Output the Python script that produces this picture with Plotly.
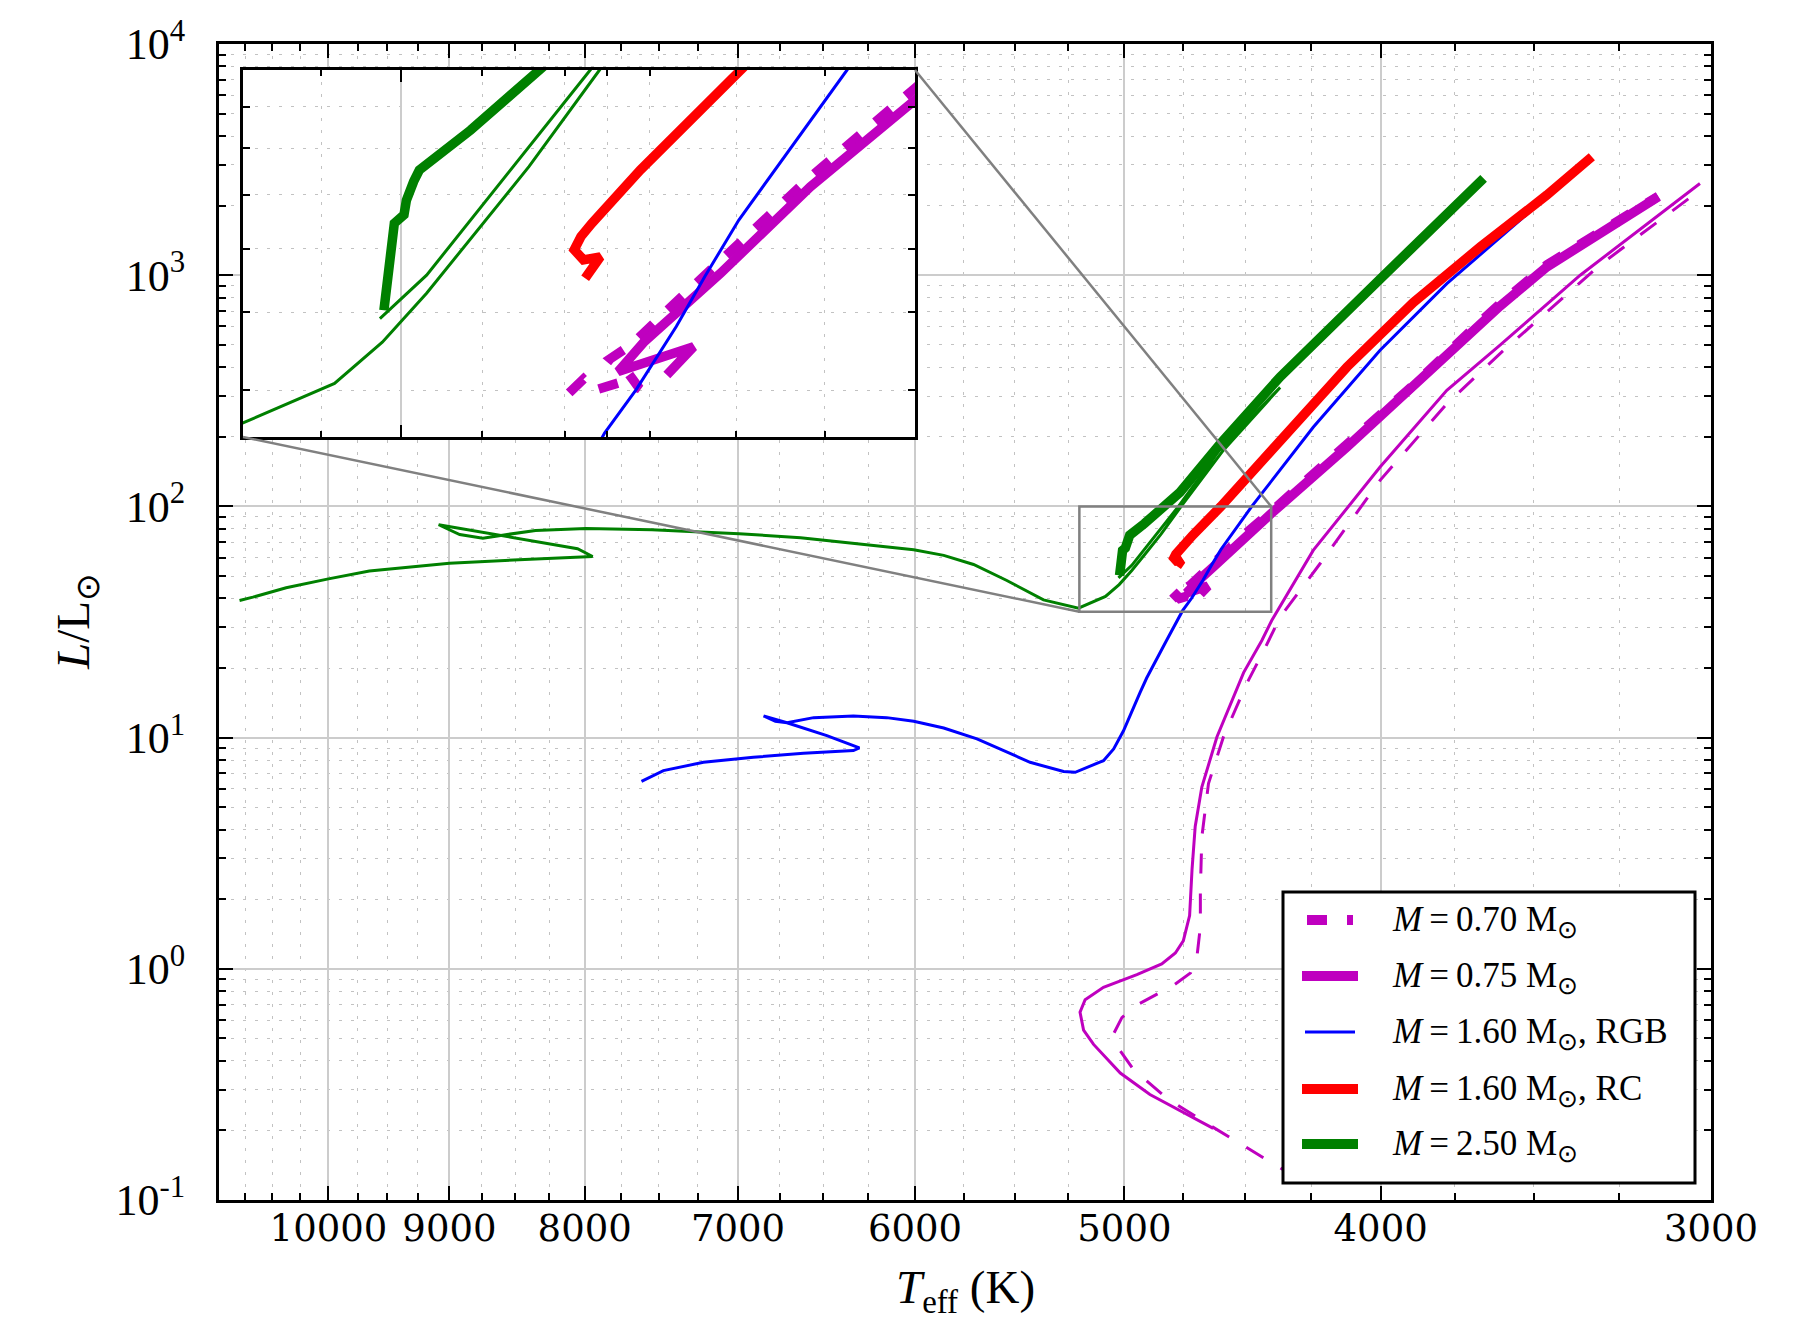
import math
import plotly.graph_objects as go

# ------------------------------------------------------------------ data
# Teff [K] and L [L_sun] along each evolutionary track
m070_rgb_T = [4300, 4353, 4494, 4668, 4820, 4961, 5032, 5047, 5011, 4946, 4791, 4720, 4693,
              4680, 4680, 4674, 4647, 4587, 4494, 4430, 4366, 4217, 4002, 3776, 3605, 3305, 3029]
m070_rgb_L = [0.124, 0.135, 0.168, 0.219, 0.276, 0.367, 0.462, 0.524, 0.615, 0.697, 0.848, 0.96, 1.15,
              1.52, 2.18, 3.71, 6.33, 10.06, 17.2, 23.6, 33.2, 56.5, 129.6, 278, 458, 1105, 2333]

m070_hb_T = [4795, 4778, 4765, 4735, 4712, 4725, 4746, 4721, 4669, 4516, 4402, 4119, 3888,
             3667, 3605, 3461, 3402, 3210, 3141]
m070_hb_L = [39.7, 41.3, 40.0, 40.9, 40.2, 42.0, 43.8, 45.6, 51.5, 73.6, 94.5, 185, 334,
             630, 752, 1108, 1250, 1880, 2195]

m075_rgb_T = [4628, 4750, 4890, 5018, 5136, 5181, 5197, 5174, 5092, 4946, 4840, 4783, 4750, 4724,
              4714, 4701, 4674, 4613, 4507, 4436, 4398, 4242, 4002, 3776, 3605, 3362, 3029]
m075_rgb_L = [0.204, 0.239, 0.286, 0.354, 0.471, 0.543, 0.649, 0.735, 0.832, 0.943, 1.05, 1.17, 1.32, 1.70,
              2.69, 4.13, 6.11, 10.06, 19.1, 26.3, 32.1, 64.5, 148, 318, 498, 1000, 2494]

m075_hb_T = [4680, 4649, 4737, 4706, 4669, 4618, 4516, 4402, 4119, 3888, 3667, 3605, 3461, 3402, 3210, 3141]
m075_hb_L = [41.8, 45.3, 42.2, 46.0, 49.9, 55.9, 71.6, 92.7, 180.6, 328, 618, 735, 1086, 1230, 1849, 2183]

m160_rgb_T = [7614, 7470, 7214, 6907, 6612, 6331, 6298, 6479, 6708, 6846, 6776, 6708, 6554, 6331, 6150,
              6007, 5852, 5685, 5428, 5272, 5219, 5092, 5047, 5004, 4932, 4904, 4820, 4753, 4716, 4669,
              4636, 4597, 4475, 4242, 4002, 3776, 3431]
m160_rgb_L = [6.47, 7.2, 7.82, 8.22, 8.55, 8.79, 9.02, 10.2, 11.6, 12.4, 11.77, 11.6, 12.2, 12.4, 12.2,
              11.77, 11.0, 9.87, 7.82, 7.13, 7.08, 7.95, 8.93, 10.7, 15.7, 18.1, 26.3, 35.4, 40.05, 48.0,
              55.4, 65.1, 100, 220, 474, 920, 2373]

m160_rc_T = [4776, 4758, 4778, 4789, 4781, 4768, 4711, 4597, 4366, 4119, 3888, 3667, 3461, 3328]
m160_rc_L = [55.1, 58.6, 58.1, 59.8, 62.1, 64.5, 75.1, 100, 193, 401, 762, 1327, 2220, 3253]

m250_rgb_T = [10805, 10680, 10375, 10000, 9650, 9000, 8470, 8082, 7945, 8050, 9085, 8920, 8742, 8594,
              8350, 7991, 7545, 7234, 6993, 6629, 6007, 5852, 5702, 5539, 5365, 5204, 5083, 5023,
              4968, 4908, 4843, 4759, 4587, 4366, 4603, 4770, 4968, 5026]
m250_rgb_L = [39.2, 40.5, 44.5, 48.6, 52.5, 56.8, 58.8, 60.0, 60.7, 65.6, 83.3, 75.6, 72.9, 75.1,
              78.7, 80.3, 79.3, 77.4, 76.2, 73.2, 64.9, 61.4, 56.1, 47.8, 39.4, 36.3, 40.8, 45.9,
              52.8, 62.7, 75.9, 100, 175, 327, 175, 100, 55.6, 49.1]

m250_heb_T = [5021, 5015, 5008, 4996, 4993, 4984, 4977, 4914, 4838, 4764, 4599, 4366, 4002, 3776, 3657]
m250_heb_L = [50.3, 58.1, 64.5, 66.1, 68.9, 72.7, 75.1, 84.2, 99.5, 115, 187, 363, 962, 1837, 2622]

x_major = [3000, 4000, 5000, 6000, 7000, 8000, 9000, 10000]
y_major = [0.1, 1, 10, 100, 1000, 10000]
y_major_text = ["10<sup>-1</sup>", "10<sup>0</sup>", "10<sup>1</sup>",
                "10<sup>2</sup>", "10<sup>3</sup>", "10<sup>4</sup>"]

legend_labels = ["<i>M</i>\u2009=\u20090.70 M<sub>\u2299</sub>",
                 "<i>M</i>\u2009=\u20090.75 M<sub>\u2299</sub>",
                 "<i>M</i>\u2009=\u20091.60 M<sub>\u2299</sub>, RGB",
                 "<i>M</i>\u2009=\u20091.60 M<sub>\u2299</sub>, RC",
                 "<i>M</i>\u2009=\u20092.50 M<sub>\u2299</sub>"]

# ------------------------------------------------------------------ styles
MAG, BLUE, RED, GREEN = "#BF00BF", "#0000FF", "#FF0000", "#008000"
THIN, THICK = 3, 9.5
DASH = "20px,20px"

tracks = [
    (m070_rgb_T, m070_rgb_L, MAG, THIN, DASH),
    (m070_hb_T, m070_hb_L, MAG, THICK, DASH),
    (m075_rgb_T, m075_rgb_L, MAG, THIN, "solid"),
    (m075_hb_T, m075_hb_L, MAG, THICK, "solid"),
    (m160_rgb_T, m160_rgb_L, BLUE, THIN, "solid"),
    (m160_rc_T, m160_rc_L, RED, THICK, "solid"),
    (m250_rgb_T, m250_rgb_L, GREEN, THIN, "solid"),
    (m250_heb_T, m250_heb_L, GREEN, THICK, "solid"),
]
legend_styles = [(MAG, 10, DASH), (MAG, 10, "solid"), (BLUE, 3, "solid"),
                 (RED, 10, "solid"), (GREEN, 10, "solid")]

# ------------------------------------------------------------------ geometry
W, H = 1804, 1320
ML, MR, MT, MB = 219, 93, 44, 120
PW, PH = W - ML - MR, H - MT - MB
X_RANGE = [math.log10(11000), math.log10(3000)]
Y_RANGE = [-1, 4]
ZOOM_T = [5200, 4400]
ZOOM_L = [35, 100]


def pxx(px):
    return (px - ML) / PW


def pxy(py):
    return (H - MB - py) / PH


def to_paper(T, L):
    return ((math.log10(T) - X_RANGE[0]) / (X_RANGE[1] - X_RANGE[0]),
            (math.log10(L) - Y_RANGE[0]) / (Y_RANGE[1] - Y_RANGE[0]))


inset_dx = [pxx(243), pxx(915)]
inset_dy = [pxy(437), pxy(70)]

fig = go.Figure()
for xa, ya in (("x", "y"), ("x2", "y2")):
    for T, L, col, w, dash in tracks:
        fig.add_trace(go.Scatter(x=T, y=L, mode="lines", xaxis=xa, yaxis=ya,
                                 line=dict(color=col, width=w, dash=dash),
                                 showlegend=False, hoverinfo="skip"))

GRID_MAJ = "#cccccc"
GRID_MIN = "#c2c2c2"
DOT = "3px,9px"

x_minor = [v for v in range(3000, 11001, 250) if v % 1000 != 0]
y_minor = [k * 10.0 ** e for e in range(-1, 4) for k in range(2, 10)]

common = dict(ticks="inside", tickcolor="black", tickwidth=2, showline=True, linewidth=3,
              linecolor="black", mirror="allticks", showgrid=True, gridcolor=GRID_MAJ,
              gridwidth=1.5, zeroline=False, automargin=False)

fig.update_layout(
    width=W, height=H,
    margin=dict(l=ML, r=MR, t=MT, b=MB, autoexpand=False),
    paper_bgcolor="white", plot_bgcolor="white", showlegend=False,
    xaxis=dict(type="log", range=X_RANGE, tickmode="array", tickvals=x_major,
               ticktext=[str(v) for v in x_major], ticklen=14,
               tickfont=dict(family="DejaVu Serif", size=37, color="black"),
               ticklabelstandoff=-6,
               minor=dict(tickmode="array", tickvals=x_minor, ticks="inside", ticklen=7,
                          tickwidth=1.5, tickcolor="black", showgrid=True,
                          gridcolor=GRID_MIN, gridwidth=1.2, griddash=DOT),
               **common),
    yaxis=dict(type="log", range=Y_RANGE, tickmode="array", tickvals=y_major,
               ticktext=y_major_text, ticklen=14,
               tickfont=dict(family="Liberation Serif", size=44, color="black"),
               ticklabelstandoff=22,
               minor=dict(tickmode="array", tickvals=y_minor, ticks="inside", ticklen=7,
                          tickwidth=1.5, tickcolor="black", showgrid=True,
                          gridcolor=GRID_MIN, gridwidth=1.2, griddash=DOT),
               **common),
    xaxis2=dict(type="log", range=[math.log10(ZOOM_T[0]), math.log10(ZOOM_T[1])],
                domain=inset_dx, anchor="y2", showticklabels=False,
                tickmode="array", tickvals=[5000], ticklen=12,
                minor=dict(tickmode="array", tickvals=[5100, 4900, 4800, 4750, 4700, 4600, 4500],
                           ticks="inside", ticklen=6, tickwidth=1.5, tickcolor="black",
                           showgrid=True, gridcolor=GRID_MIN, gridwidth=1.2, griddash=DOT),
                **common),
    yaxis2=dict(type="log", range=[math.log10(ZOOM_L[0]), math.log10(ZOOM_L[1])],
                domain=inset_dy, anchor="x2", showticklabels=False,
                tickmode="array", tickvals=[100], ticklen=12,
                minor=dict(tickmode="array", tickvals=[40, 50, 60, 70, 80, 90],
                           ticks="inside", ticklen=7, tickwidth=1.5, tickcolor="black",
                           showgrid=True, gridcolor=GRID_MIN, gridwidth=1.2, griddash=DOT),
                **common),
)

shapes = []
# zoom rectangle and connector lines
(rx0, ry0) = to_paper(ZOOM_T[0], ZOOM_L[0])
(rx1, ry1) = to_paper(ZOOM_T[1], ZOOM_L[1])
GRAY = "#808080"
shapes.append(dict(type="rect", xref="paper", yref="paper", x0=rx0, x1=rx1, y0=ry0, y1=ry1,
                   line=dict(color=GRAY, width=2.5), layer="above"))
shapes.append(dict(type="line", xref="paper", yref="paper", x0=inset_dx[0], y0=inset_dy[0],
                   x1=rx0, y1=ry0, line=dict(color=GRAY, width=2.5), layer="above"))
shapes.append(dict(type="line", xref="paper", yref="paper", x0=inset_dx[1], y0=inset_dy[1],
                   x1=rx1, y1=ry1, line=dict(color=GRAY, width=2.5), layer="above"))

# legend box
shapes.append(dict(type="rect", xref="paper", yref="paper", x0=pxx(1283), x1=pxx(1695),
                   y0=pxy(1183), y1=pxy(892), line=dict(color="black", width=3),
                   fillcolor="white", layer="above"))
entry_y = [920, 976, 1032, 1089, 1144]
annotations = []
for (col, w, dash), lab, ey in zip(legend_styles, legend_labels, entry_y):
    x0, x1 = (1307, 1353) if dash != "solid" else ((1305, 1355) if w < 5 else (1302, 1358))
    shapes.append(dict(type="line", xref="paper", yref="paper", x0=pxx(x0), x1=pxx(x1),
                       y0=pxy(ey), y1=pxy(ey), line=dict(color=col, width=w, dash=dash),
                       layer="above"))
    annotations.append(dict(xref="paper", yref="paper", x=pxx(1390), y=pxy(ey + 1),
                            xanchor="left", yanchor="middle", text=lab, showarrow=False,
                            font=dict(family="Liberation Serif", size=35, color="black")))

# axis titles
annotations.append(dict(xref="paper", yref="paper", x=0.5, y=pxy(1290), xanchor="center",
                        yanchor="middle", showarrow=False,
                        text="<i>T</i><sub>eff</sub> (K)",
                        font=dict(family="Liberation Serif", size=47, color="black")))
annotations.append(dict(xref="paper", yref="paper", x=pxx(76), y=0.5, xanchor="center",
                        yanchor="middle", showarrow=False, textangle=-90,
                        text="<i>L</i>/L<sub>\u2299</sub>",
                        font=dict(family="Liberation Serif", size=47, color="black")))

fig.update_layout(shapes=shapes, annotations=annotations)

fig.write_html("out.html", config={"displayModeBar": False},
               post_script="document.body.style.margin='0';")
